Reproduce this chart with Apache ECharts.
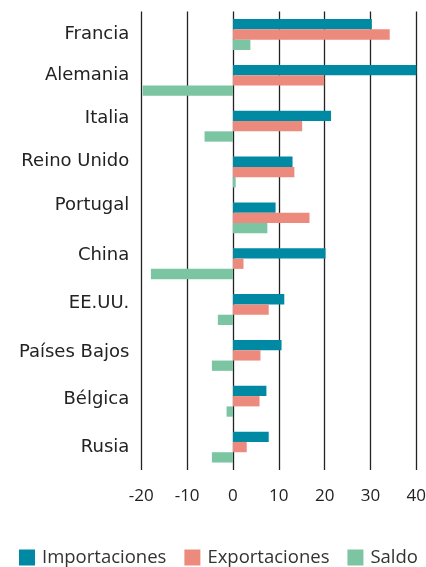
<!DOCTYPE html>
<html>
<head>
<meta charset="utf-8">
<script src="https://cdn.jsdelivr.net/npm/echarts@6/dist/echarts.min.js"></script>
<style>
  html, body { margin: 0; padding: 0; background: #fff; }
  #chart { width: 426px; height: 567px; }
</style>
</head>
<body>
<div id="chart"></div>
<script>
var paises = ['Francia', 'Alemania', 'Italia', 'Reino Unido', 'Portugal', 'China', 'EE.UU.', 'Países Bajos', 'Bélgica', 'Rusia']
var importaciones = [30.3, 40, 21.4, 13.0, 9.3, 20.2, 11.2, 10.6, 7.3, 7.8]
var exportaciones = [34.2, 19.9, 15.1, 13.4, 16.7, 2.3, 7.8, 6.0, 5.8, 3.0]
var saldo = [3.8, -19.7, -6.2, 0.6, 7.5, -17.9, -3.3, -4.6, -1.4, -4.6]

// the original labels sit a little above their bar groups, unevenly
var subirEtiqueta = [0, 10, 16, 22, 26, 16, 12, 6, 4, 0]

var fuente = '"Open Sans", "Noto Sans", sans-serif'
var chart = echarts.init(document.getElementById('chart'))

function serie(name, data, color) {
  return {
    name: name,
    type: 'bar',
    data: data,
    barWidth: 10.3,
    barGap: '0%',
    itemStyle: { color: color },
    animation: false
  }
}

var rich = {}
subirEtiqueta.forEach(function(p, i) {
  rich['p' + i] = { fontSize: 18, color: '#222', fontFamily: '"DejaVu Sans", sans-serif', padding: [0, 0, p, 0] }
})

chart.setOption({
  textStyle: { fontFamily: fuente },
  grid: {
    left: 141.3,
    right: 9.7,
    top: 11.6,
    bottom: 97,
    outerBoundsMode: 'none'
  },
  legend: {
    bottom: -5,
    left: 14,
    itemWidth: 16,
    itemHeight: 16,
    itemGap: 18,
    icon: 'rect',
    textStyle: { fontSize: 18.5, color: '#333', fontFamily: fuente, padding: [0, 0, 0, 2] },
    data: ['Importaciones', 'Exportaciones', 'Saldo']
  },
  xAxis: {
    type: 'value',
    min: -20,
    max: 40,
    interval: 10,
    axisLine: { show: false },
    axisTick: { show: false },
    axisLabel: { fontSize: 17, color: '#222', margin: 18 },
    splitLine: { show: true, lineStyle: { color: '#222', width: 1.3 } }
  },
  yAxis: {
    type: 'category',
    inverse: true,
    data: paises,
    axisLine: { show: false },
    axisTick: { show: false },
    axisLabel: {
      margin: 12,
      formatter: function(v, i) { return '{p' + i + '|' + v + '}' },
      rich: rich
    }
  },
  series: [
    serie('Importaciones', importaciones, '#0089a3'),
    serie('Exportaciones', exportaciones, '#ec8a7e'),
    serie('Saldo', saldo, '#7cc5a2')
  ]
})
</script>
</body>
</html>
